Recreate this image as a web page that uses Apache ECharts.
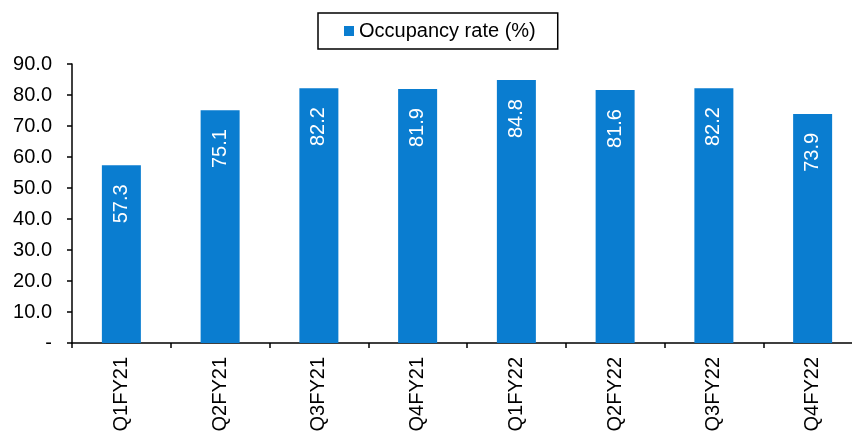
<!DOCTYPE html>
<html lang="en">
<head>
    <meta charset="UTF-8">
    <title>Occupancy rate</title>
</head>
<style>
    body{
        margin: 0;
        padding: 0;
        overflow: hidden;
        background-color: #fff;
    }
    /* the plot runs a little past the right edge of the window, as in the source */
    .main{
        width: 862px;
        height: 435px;
    }
</style>
<body>
    <div class="main"></div>
</body>
<script src="https://cdn.jsdelivr.net/npm/echarts/dist/echarts.min.js"></script>
<script>
  // data
  var quarters = ['Q1FY21', 'Q2FY21', 'Q3FY21', 'Q4FY21', 'Q1FY22', 'Q2FY22', 'Q3FY22', 'Q4FY22'];
  var occupancy = [57.3, 75.1, 82.2, 81.9, 84.8, 81.6, 82.2, 73.9];
  var seriesName = 'Occupancy rate (%)';

  var font = 'Liberation Sans, Arial, sans-serif';
  var myChart = echarts.init(document.querySelector('.main'));

  var option = {
    animation: false,
    textStyle: { fontFamily: font },
    legend: {
      left: 318,
      top: 13,
      data: [seriesName],
      icon: 'rect',
      itemWidth: 10,
      itemHeight: 10,
      borderColor: '#000',
      borderWidth: 1.5,
      padding: [8, 22, 8, 26],
      textStyle: { fontSize: 20, color: '#000', fontFamily: font }
    },
    grid: {
      left: 72,
      top: 64,
      right: 0,
      bottom: 92
    },
    xAxis: {
      type: 'category',
      data: quarters,
      axisLine: { lineStyle: { color: '#000', width: 1.5 } },
      axisTick: { show: true, length: 5, lineStyle: { color: '#000', width: 1.5 } },
      axisLabel: {
        rotate: 90,
        margin: 14,
        fontSize: 20,
        color: '#000',
        fontFamily: font
      }
    },
    yAxis: {
      type: 'value',
      min: 0,
      max: 90,
      interval: 10,
      splitLine: { show: false },
      axisLine: { show: true, lineStyle: { color: '#000', width: 1.5 } },
      axisTick: { show: true, length: 5, lineStyle: { color: '#000', width: 1.5 } },
      axisLabel: {
        margin: 20,
        fontSize: 20,
        color: '#000',
        fontFamily: font,
        formatter: function (v) { return v === 0 ? '-' : v.toFixed(1); }
      }
    },
    series: [
      {
        name: seriesName,
        type: 'bar',
        data: occupancy,
        barWidth: 39,
        itemStyle: { color: '#0a7dd0' },
        label: {
          show: true,
          position: 'insideTop',
          distance: 19,
          rotate: 90,
          align: 'right',
          verticalAlign: 'middle',
          fontSize: 20,
          color: '#fff',
          fontFamily: font,
          formatter: function (p) { return p.value.toFixed(1); }
        }
      }
    ]
  };
  myChart.setOption(option);
</script>
</html>
